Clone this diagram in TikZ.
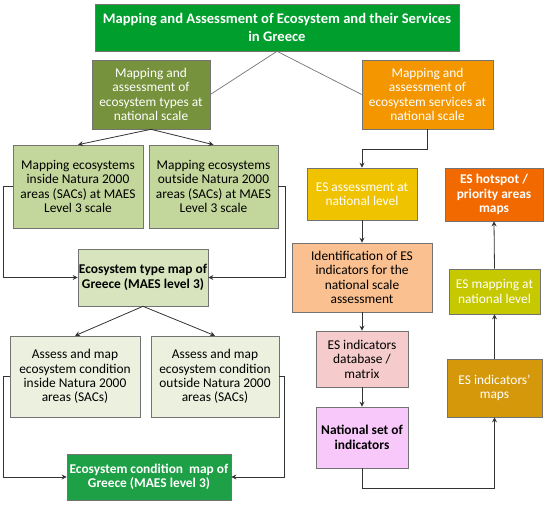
\documentclass[tikz,border=0pt]{standalone}
\usepackage{fontspec}
\setmainfont{Carlito}
\usetikzlibrary{arrows.meta}
\definecolor{cTitle}{RGB}{0,158,45}
\definecolor{cOlive}{RGB}{118,146,60}
\definecolor{cOrange}{RGB}{243,150,0}
\definecolor{cMap}{RGB}{195,214,155}
\definecolor{cEtm}{RGB}{215,228,189}
\definecolor{cAss}{RGB}{235,241,222}
\definecolor{cEcm}{RGB}{30,160,70}
\definecolor{cEsa}{RGB}{240,195,0}
\definecolor{cIdf}{RGB}{250,192,144}
\definecolor{cDb}{RGB}{245,203,203}
\definecolor{cNat}{RGB}{248,200,250}
\definecolor{cInd}{RGB}{212,152,10}
\definecolor{cEsm}{RGB}{198,200,0}
\definecolor{cHot}{RGB}{242,105,0}
\tikzset{
  box/.style={draw=black!55, line width=0.6pt, align=center, inner sep=1pt,
    font=\fontsize{13.4}{14.4}\selectfont},
  wtext/.style={text=white},
  bld/.style={font=\fontsize{13.4}{14.4}\selectfont\bfseries},
  arr/.style={draw=black!80, line width=0.8pt, -{Stealth[length=5pt,width=5pt]}},
  gline/.style={draw=black!55, line width=0.7pt},
}
\begin{document}
\begin{tikzpicture}[x=1pt,y=-1pt]
\useasboundingbox (0,0) rectangle (550,507);
% title
\node[box, fill=cTitle, wtext, minimum width=364pt, minimum height=47pt,
  font=\fontsize{14.6}{17.5}\selectfont\bfseries] (title) at (277,27.5)
  {Mapping and Assessment of Ecosystem and their Services\\in Greece};
% second level
\node[box, fill=cOlive, wtext, minimum width=118pt, minimum height=69pt] (olive) at (151,94.5)
  {Mapping and\\assessment of\\ecosystem types at\\national scale};
\node[box, fill=cOrange, wtext, minimum width=131pt, minimum height=69pt] (orange) at (427.5,94.5)
  {Mapping and\\assessment of\\ecosystem services at\\national scale};
% left column
\node[box, fill=cMap, minimum width=130pt, minimum height=83pt] (m1) at (78,186.5)
  {Mapping ecosystems\\inside Natura 2000\\areas (SACs) at MAES\\Level 3 scale};
\node[box, fill=cMap, minimum width=129pt, minimum height=83pt] (m2) at (213.5,186.5)
  {Mapping ecosystems\\outside Natura 2000\\areas (SACs) at MAES\\Level 3 scale};
\node[box, bld, fill=cEtm, minimum width=130pt, minimum height=57pt] (etm) at (143,277.5)
  {Ecosystem type map of\\Greece (MAES level 3)};
\node[box, fill=cAss, minimum width=130pt, minimum height=81pt] (a1) at (75,376.5)
  {Assess and map\\ecosystem condition\\inside Natura 2000\\areas (SACs)};
\node[box, fill=cAss, minimum width=128pt, minimum height=81pt] (a2) at (215,376.5)
  {Assess and map\\ecosystem condition\\outside Natura 2000\\areas (SACs)};
\node[box, bld, fill=cEcm, wtext, minimum width=164pt, minimum height=46pt] (ecm) at (149,477)
  {Ecosystem condition\ \ map of\\Greece (MAES level 3)};
% right columns
\node[box, fill=cEsa, wtext, minimum width=110pt, minimum height=52pt] (esa) at (362,194)
  {ES assessment at\\national level};
\node[box, fill=cIdf, minimum width=140pt, minimum height=69pt] (idf) at (362,277.5)
  {Identification of ES\\indicators for the\\national scale\\assessment};
\node[box, fill=cDb, minimum width=92pt, minimum height=56pt] (db) at (362,359)
  {ES indicators\\database /\\matrix};
\node[box, bld, fill=cNat, minimum width=92pt, minimum height=61pt] (nat) at (362,437.5)
  {National set of\\indicators};
\node[box, fill=cInd, wtext, minimum width=95pt, minimum height=58pt] (ind) at (494.5,388)
  {ES indicators'\\maps};
\node[box, fill=cEsm, wtext, minimum width=91pt, minimum height=45pt] (esm) at (494.5,291.5)
  {ES mapping at\\national level};
\node[box, bld, fill=cHot, wtext, minimum width=98pt, minimum height=53pt] (hot) at (494,194.5)
  {ES hotspot /\\priority areas\\maps};
% connectors
\draw[gline] (title.south) -- (olive.east);
\draw[gline] (title.south) -- (orange.west);
\draw[arr] (olive.south) -- (m1.north);
\draw[arr] (olive.south) -- (m2.north);
\draw[arr] (m1.west) -- ++(-9,0) |- (etm.west);
\draw[arr] (m2.east) -- ++(7,0) |- (etm.east);
\draw[arr] (etm.south) -- (a1.north);
\draw[arr] (etm.south) -- (a2.north);
\draw[arr] (a1.west) -- ++(-6,0) |- (ecm.west);
\draw[arr] (a2.east) -- ++(5,0) |- (ecm.east);
\draw[arr] (orange.south) -- ++(0,20) -| (esa.north);
\draw[arr] (esa.south) -- (idf.north);
\draw[arr] (idf.south) -- (db.north);
\draw[arr] (db.south) -- (nat.north);
\draw[arr] (nat.south) -- ++(0,20) -| (ind.south);
\draw[arr] (ind.north) -- (esm.south);
\draw[arr] (esm.north) -- (hot.south);
\end{tikzpicture}
\end{document}
